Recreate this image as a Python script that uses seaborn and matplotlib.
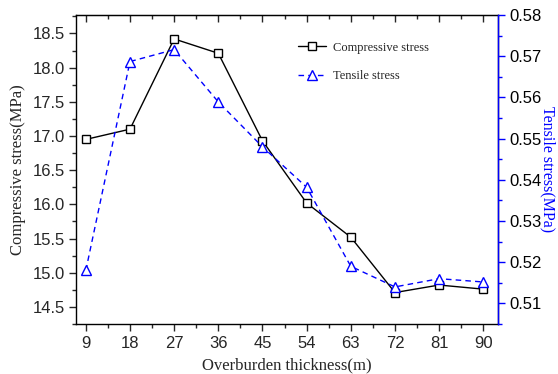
import matplotlib
matplotlib.use("Agg")
import matplotlib.pyplot as plt
import seaborn as sns
import pandas as pd
from matplotlib.ticker import MultipleLocator, FormatStrFormatter

thickness = [9, 18, 27, 36, 45, 54, 63, 72, 81, 90]
compressive = [16.95, 17.10, 18.42, 18.21, 16.93, 16.02, 15.52, 14.71, 14.82, 14.76]
tensile = [0.518, 0.5687, 0.5716, 0.5589, 0.548, 0.5382, 0.519, 0.514, 0.516, 0.5152]
xticks = [9, 18, 27, 36, 45, 54, 63, 72, 81, 90]

sns.set_style("white")
plt.rcParams['font.family'] = ['Liberation Sans', 'DejaVu Sans']

df = pd.DataFrame({"x": thickness, "c": compressive, "t": tensile})

fig = plt.figure(figsize=(5.58, 3.74), dpi=100)
ax = fig.add_axes([76/558, 50/374, (498-76)/558, (324-15)/374])
ax2 = ax.twinx()

sns.lineplot(data=df, x="x", y="c", ax=ax, color="black", lw=1.0, marker="s",
             markersize=6, markerfacecolor="white", markeredgecolor="black",
             markeredgewidth=1.0, label="Compressive stress", legend=False)
sns.lineplot(data=df, x="x", y="t", ax=ax2, color="blue", lw=1.0, marker="^",
             markersize=7, markerfacecolor="white", markeredgecolor="blue",
             markeredgewidth=1.0, label="Tensile stress", legend=False)
ax2.lines[0].set_dashes([4, 3])

ax.set_xlim(7, 93)
ax.set_ylim(14.25, 18.77)
ax2.set_ylim(0.505, 0.58)
ax.set_xticks(xticks)
ax.xaxis.set_minor_locator(MultipleLocator(4.5))
ax.yaxis.set_major_locator(MultipleLocator(0.5))
ax.yaxis.set_minor_locator(MultipleLocator(0.25))
ax2.yaxis.set_major_locator(MultipleLocator(0.01))
ax2.yaxis.set_minor_locator(MultipleLocator(0.005))
ax.yaxis.set_major_formatter(FormatStrFormatter('%.1f'))
ax2.yaxis.set_major_formatter(FormatStrFormatter('%.2f'))

for sp in ax.spines.values():
    sp.set_linewidth(1.0)
    sp.set_color("black")
ax2.spines['right'].set_color("blue")
ax2.spines['right'].set_linewidth(1.0)
for s in ['left', 'top', 'bottom']:
    ax2.spines[s].set_visible(False)

ax.tick_params(axis='x', which='both', direction='out', bottom=True, top=False, labelsize=12, pad=4)
ax.tick_params(axis='x', which='major', length=5, width=1)
ax.tick_params(axis='x', which='minor', length=3, width=1)
ax.tick_params(axis='y', which='both', direction='out', left=True, labelsize=12, pad=3)
ax.tick_params(axis='y', which='major', length=5, width=1)
ax.tick_params(axis='y', which='minor', length=3, width=1)
ax2.tick_params(axis='y', which='both', direction='out', right=True, colors='blue',
                labelcolor='black', labelsize=12, pad=3)
ax2.tick_params(axis='y', which='major', length=5, width=1)
ax2.tick_params(axis='y', which='minor', length=3, width=1)

# top ticks drawn inward
axt = ax.secondary_xaxis('top')
axt.set_xticks(xticks)
axt.xaxis.set_minor_locator(MultipleLocator(4.5))
axt.tick_params(axis='x', which='both', direction='in', labeltop=False)
axt.tick_params(axis='x', which='major', length=5, width=1)
axt.tick_params(axis='x', which='minor', length=3, width=1)
axt.set_xticklabels([])

serif = ['Liberation Serif', 'DejaVu Serif']
ax.set_xlabel("Overburden thickness(m)", family=serif, fontsize=12, labelpad=4)
ax.set_ylabel("Compressive stress(MPa)", family=serif, fontsize=12, labelpad=5)
ax2.set_ylabel("Tensile stress(MPa)", family=serif, fontsize=11.5, color='blue',
               rotation=270, labelpad=10)

handles = [ax.lines[0], ax2.lines[0]]
leg = ax.legend(handles, ["Compressive stress", "Tensile stress"],
                loc='upper left', bbox_to_anchor=(0.50, 0.95), frameon=False,
                prop={'family': serif, 'size': 9}, handlelength=2.2,
                handletextpad=0.6, labelspacing=1.3, numpoints=1)

fig.savefig("out.png", dpi=100)
